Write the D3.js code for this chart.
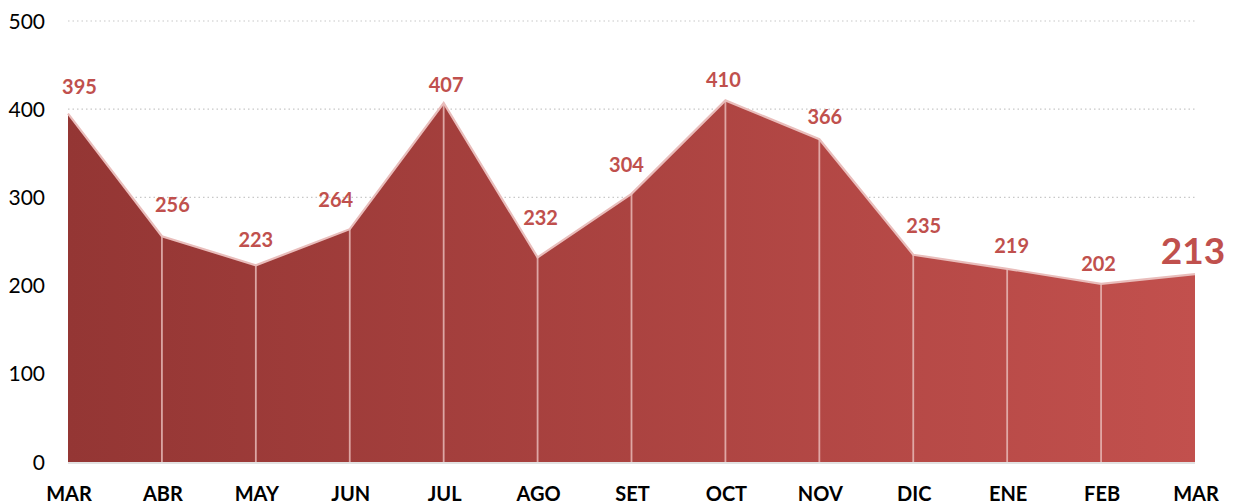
<!DOCTYPE html>
<html><head><meta charset="utf-8">
<script src="https://cdn.jsdelivr.net/npm/d3@7"></script>
<style>body{margin:0;background:#fff}svg{display:block}</style>
</head><body>
<svg id="c" width="1237" height="504"></svg>
<script>
const months = ["MAR","ABR","MAY","JUN","JUL","AGO","SET","OCT","NOV","DIC","ENE","FEB","MAR"];
const values = [395,256,223,264,407,232,304,410,366,235,219,202,213];
const yTicks = [0,100,200,300,400,500];
// label nudges (layout only)
const labelDx = [11.5,10.5,0,-14,2.5,3,-5,-2,5.5,10.5,4.5,-2.5,-2];
const labelDy = [-20,-24,-18,-22,-11,-32,-22,-13,-15,-22,-16,-13,-10];

const svg = d3.select("#c");
const x = d3.scaleLinear().domain([0, months.length-1]).range([68,1195]);
const y = d3.scaleLinear().domain([0,500]).range([462,21]);
const font = "Lato, 'Open Sans', sans-serif";

const defs = svg.append("defs");
const g = defs.append("linearGradient").attr("id","grad").attr("x1","0").attr("x2","1").attr("y1","0").attr("y2","0");
g.append("stop").attr("offset","0%").attr("stop-color","#943634");
g.append("stop").attr("offset","100%").attr("stop-color","#C2504D");

// gridlines
svg.append("g").selectAll("line").data(yTicks.filter(d=>d>0)).join("line")
  .attr("x1",68).attr("x2",1195).attr("y1",d=>y(d)).attr("y2",d=>y(d))
  .attr("stroke","#C8C8C8").attr("stroke-width",1.2).attr("stroke-dasharray","1.5,3");

// y labels
svg.append("g").selectAll("text").data(yTicks).join("text")
  .attr("x",45).attr("y",d=>y(d)).attr("dy","0.36em").attr("text-anchor","end")
  .attr("font-family",font).attr("font-size",21).attr("fill","#000").text(d=>d);

const idx = d3.range(values.length);
const area = d3.area().x(i=>x(i)).y0(y(0)).y1(i=>y(values[i]));
svg.append("path").datum(idx).attr("d",area).attr("fill","url(#grad)");

// vertical lines
svg.append("g").selectAll("line").data(idx.slice(1,-1)).join("line")
  .attr("x1",i=>x(i)).attr("x2",i=>x(i)).attr("y1",y(0)).attr("y2",i=>y(values[i]))
  .attr("stroke","#E8B8B6").attr("stroke-width",1.8).attr("stroke-opacity",0.85);

// top line
const line = d3.line().x(i=>x(i)).y(i=>y(values[i]));
svg.append("path").datum(idx).attr("d",line).attr("fill","none")
  .attr("stroke","#E9BDBB").attr("stroke-width",2.2);

// baseline
svg.append("line").attr("x1",68).attr("x2",1195).attr("y1",y(0)+1).attr("y2",y(0)+1)
  .attr("stroke","#D9D9D9").attr("stroke-width",1.5);

// x labels
svg.append("g").selectAll("text").data(idx).join("text")
  .attr("x",i=>x(i)+1).attr("y",500.5).attr("text-anchor","middle")
  .attr("font-family",font).attr("font-weight","bold").attr("font-size",20).attr("fill","#000")
  .text(i=>months[i]);

// value labels
const last = values.length-1;
svg.append("g").selectAll("text").data(idx).join("text")
  .attr("x",i=>x(i)+labelDx[i]).attr("y",i=>y(values[i])+labelDy[i])
  .attr("text-anchor","middle").attr("font-family",font).attr("font-weight","bold")
  .attr("font-size",i=> i===last ? 37 : 20).attr("fill","#C0504D")
  .text(i=>values[i]);
</script>
</body></html>
